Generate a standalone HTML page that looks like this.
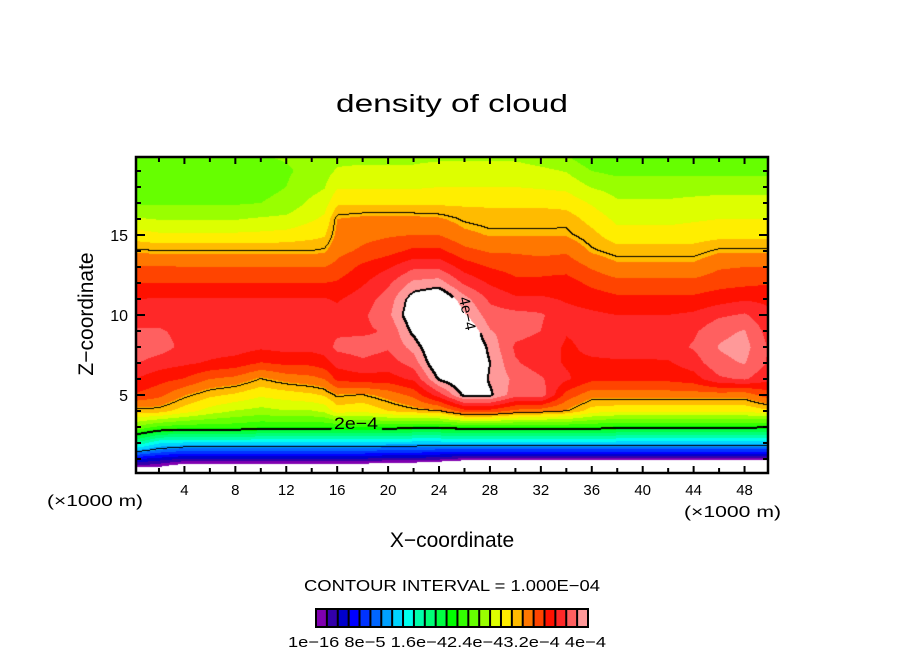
<!DOCTYPE html>
<html><head><meta charset="utf-8">
<style>
html,body{margin:0;padding:0;background:#fff;}
#wrap{position:relative;width:904px;height:654px;overflow:hidden;font-family:"Liberation Sans",sans-serif;}
#field{position:absolute;left:136px;top:157px;}
#ov{position:absolute;left:0;top:0;}
</style></head>
<body>
<div id="wrap">
<canvas id="field" width="632" height="316"></canvas>
<svg id="ov" width="904" height="654">
<text x="336" y="112" font-size="25" textLength="232" lengthAdjust="spacingAndGlyphs">density of cloud</text>
<g id="axes"></g>
<text transform="translate(93,314) rotate(-90)" font-size="21" text-anchor="middle">Z−coordinate</text>
<text x="452" y="547" font-size="21" text-anchor="middle">X−coordinate</text>
<text x="47" y="506" font-size="16" textLength="96" lengthAdjust="spacingAndGlyphs">(×1000 m)</text>
<text x="684" y="517" font-size="16" textLength="97" lengthAdjust="spacingAndGlyphs">(×1000 m)</text>
<text x="334" y="429" font-size="17" textLength="44" lengthAdjust="spacingAndGlyphs">2e−4</text>
<text transform="translate(459,298) rotate(78)" font-size="15">4e−4</text>
<text x="304" y="591" font-size="16" textLength="296" lengthAdjust="spacingAndGlyphs">CONTOUR INTERVAL = 1.000E−04</text>
<g id="cbar"></g>
<text x="288" y="647" font-size="15" textLength="318" lengthAdjust="spacingAndGlyphs">1e−16 8e−5 1.6e−42.4e−43.2e−4 4e−4</text>
</svg>
</div>
<script>
// ---- data (values in units of 1e-5) ----
const xCols = [0,2,4,6,8,10,12,14,15,16,18,20,22,24,26,28,30,32,34,36,38,40,42,44,46,48,50];
const zLevels = [0,0.5,1,1.5,2,3,4,5,6,7,8,9,10,11,12,13,14,15,16,17,18,19,20];
const densityByColumn = [
[-20,1,5,11,16,24,29.5,33.5,35.2,37,38,37,36,35.2,33.6,32,30.2,28,25.8,23.8,23.5,23.5,23.5],
[-20,0,4,9,13,22,29.5,32.5,34.2,36,37.6,37,36,35.3,33.6,32.2,30,27.5,25.5,23.8,23.3,23.2,23.8],
[-20,-2,3,8,12.5,21.5,28,30.5,33.5,35.5,36.3,36.3,36,35.3,33.6,32,30,27.5,25.5,23.8,23.3,23.2,23.8],
[-20,-2,3,8,12.5,21.5,26.5,29.2,32,35,36,36.3,36,35.3,33.6,32,30,27.5,25.5,23.8,23.3,23.2,23.8],
[-20,-2,3,8,12.5,21.5,25.5,28.5,31.5,34.5,36,36.3,36,35.3,33.6,32,30,27.5,25.5,23.8,23.3,23.2,23.8],
[-20,-2,3,8,12.5,21,25,27.5,30,33.5,35.5,36.3,36,35.3,33.6,32,30,27.6,25.8,24,23.5,23.3,24],
[-20,-2,3,8,12.5,21,25.5,28,31,34,35.8,36.3,36,35.3,33.6,32,30,27.8,26,24.5,24,23.8,24.2],
[-20,-2,3,8,12.5,21,25.5,28.5,31.5,34,35.8,36.3,36,35.3,33.6,32,30,28.3,27,26,25,24.5,24.5],
[-20,-2,3,8,12.5,21,26,29,32,34.5,36,36.3,36,35.3,33.6,32,30.2,28.6,27.5,26.5,25.5,25,24.8],
[-20,-2,3,8,12.5,21,28,30.3,34,35.8,37.2,36.5,35.8,35,33.8,32.5,31.5,30.8,30.4,28.5,27,25.8,25],
[-20,-2,3,8,12.5,21,27.5,30,34.5,36.5,37.5,36.5,36.5,36,35,34,32.3,31.5,30.8,28.5,27,26,25],
[-20,-3,2.5,7.5,12,21,28.8,31,34.5,36,37,37,38,37.5,36.5,35,33,31.8,30.8,28.5,27,26,25],
[-20,-3,2.5,7.5,12,20.5,29.6,32.5,35.5,37.5,39,40.5,41.5,41,38.8,36.5,34,32,30.8,28.5,27,26,25],
[-20,-4,2,7,12,20.5,30,36,40.2,42,42.5,43,43,42,39.2,36.5,34,32,30.6,28.5,27.2,26.5,25],
[-20,-5,1,7,12,21,33,40.5,42,43,43,42,40.2,39,36.5,34.5,32.5,30.8,29.8,28.5,27.2,26.5,25],
[-20,-5,1,7,12,21,33,40.3,39.8,40,39.5,38.5,37.5,36.5,35,33.5,31.8,30.3,29.5,28.5,27.2,26.5,25],
[-20,-5,1,7,12,21,31.5,37.5,38,37,36.5,37.5,37.3,35.5,34,33,31.8,30.3,29.5,28.5,27.2,26.5,25],
[-20,-5,1,7,12,21,31,37.8,37,36,36,36.8,37,35.5,34,33,31.5,30.3,29.5,28.5,27,26,24.5],
[-20,-5,1,7,12,21,30.2,33,35.5,35,35,35.3,35.8,35,34.3,33,31.8,30.3,29.6,28.2,26.8,25.5,24],
[-20,-5,1,7,12,21,28,31,34,35,35.5,35.5,35.5,34.5,33.2,31.8,30.2,29.3,28.2,27,25.5,24,22.5],
[-20,-5,1,7,12,20.5,27.5,31.2,34,35,35.8,35.8,35.2,34,32.5,30.8,29.5,27.8,26.8,25.8,25,23.5,22],
[-20,-5,1,7,12,20.5,27.5,31.2,34,35,35.8,35.8,35.2,34,32.5,30.8,29.5,27.8,26.8,25.8,25,23.5,22],
[-20,-5,1,7,12,20.5,27.5,31.2,34,35,36,35.8,35.2,34,32.5,30.8,29.5,27.8,26.8,25.8,25,23.5,22],
[-20,-5,1,7,12,20.5,27.5,31.2,34.5,36,37,36.5,35.5,34,32.5,30.8,29.5,28,27,26,25,23.5,22],
[-20,-5,1,7,12,20.5,27.5,31.2,36.5,38,38.5,38,36.5,34.5,33,31.8,30.2,28.3,27.2,26.2,25,23.5,22],
[-20,-5,1,7,12,20.5,27.5,31,37,38.5,39,38.5,37,35,33.2,32,30.2,28.3,27.2,26.2,25,23.5,22],
[-20,-5,1,7,12,20,28.5,33,35.5,36.5,36.5,36,35.5,34.8,33.5,32,30.2,28.3,27.2,26.2,25,23.5,22]
];
const contourLevels = [10,20,30,40];
const bandColors = ['#8000b0','#3300aa','#0000cc','#0000ff','#0033ff','#0066ff','#00a0ff','#00d4ff','#00ffee','#00ffaa','#00ff77','#00ff44','#00ff00','#33ff00','#66ff00','#99ff00','#ddff00','#ffee00','#ffbb00','#ff7700','#ff4400','#ff1100','#ff2828','#ff6060','#ff9999'];
const bandWidth = 1.6;
const xTicks = [4,8,12,16,20,24,28,32,36,40,44,48];
const zTicks = [5,10,15];

// ---- axis functions ----
const PL=136, PT=157, PW=632, PH=316;
function xPx(x){ return 133.5 + x*12.73; }
function zPx(z){ return 475 - z*16; }
function pxToX(px){ return (px-133.5)/12.73; }
function pxToZ(pz){ return (475-pz)/16; }

function sample(x,z){
  let i=0; while(i<xCols.length-2 && x>xCols[i+1]) i++;
  let tx = (x - xCols[i])/(xCols[i+1]-xCols[i]); tx=Math.max(0,Math.min(1,tx));
  let k=0; while(k<zLevels.length-2 && z>zLevels[k+1]) k++;
  let tz=(z-zLevels[k])/(zLevels[k+1]-zLevels[k]); tz=Math.max(0,Math.min(1,tz));
  const a=densityByColumn[i][k], b=densityByColumn[i+1][k], c=densityByColumn[i][k+1], d=densityByColumn[i+1][k+1];
  return (a*(1-tx)+b*tx)*(1-tz)+(c*(1-tx)+d*tx)*tz;
}
function hex(c){ return [parseInt(c.substr(1,2),16),parseInt(c.substr(3,2),16),parseInt(c.substr(5,2),16)]; }
const rgb = bandColors.map(hex);
function lev(v){ let n=0; for(const L of contourLevels){ if(v>=L) n++; } return n; }

const cv=document.getElementById('field'); const ctx=cv.getContext('2d');
const img=ctx.createImageData(PW,PH);
const vals=new Float32Array(PW*PH);
for(let j=0;j<PH;j++){ for(let i=0;i<PW;i++){ vals[j*PW+i]=sample(pxToX(PL+i+0.5), pxToZ(PT+j+0.5)); } }
for(let j=0;j<PH;j++){ for(let i=0;i<PW;i++){
  const v=vals[j*PW+i]; let col=[255,255,255];
  if(v>=0 && v<40){ let idx=Math.floor(v/bandWidth); if(idx>24)idx=24; col=rgb[idx]; }
  const p=(j*PW+i)*4; img.data[p]=col[0];img.data[p+1]=col[1];img.data[p+2]=col[2];img.data[p+3]=255;
}}
function blk(i,j){ if(i<0||j<0||i>=PW||j>=PH)return; const p=(j*PW+i)*4; img.data[p]=0;img.data[p+1]=0;img.data[p+2]=0; }
function inGap(i,j,L){
  const X=PL+i, Y=PT+j;
  if(L===2 && X>330 && X<382 && Y>412 && Y<436) return true;
  if(L===4 && X>452 && X<480 && Y>292 && Y<346) return true;
  return false;
}
for(let j=0;j<PH-1;j++){ for(let i=0;i<PW-1;i++){
  const v=vals[j*PW+i]; if(v<0) continue;
  const a=lev(v), r=lev(vals[j*PW+i+1]), d=lev(vals[(j+1)*PW+i]);
  if(a!==r||a!==d){
    const L=Math.max(a,r,d);
    if(inGap(i,j,L)) continue;
    blk(i,j);
    if(L===2||L===4){ blk(i,j+1); blk(i+1,j); }
  }
}}
ctx.putImageData(img,0,0);

// ---- axes ----
const NS='http://www.w3.org/2000/svg';
const axes=document.getElementById('axes');
function mk(tag,attrs,parent){ const e=document.createElementNS(NS,tag); for(const k in attrs)e.setAttribute(k,attrs[k]); parent.appendChild(e); return e; }
const frame=mk('rect',{x:PL,y:PT,width:PW,height:PH,fill:'none',stroke:'#000','stroke-width':2.5},axes);


for(let x=2;x<=48;x+=2){
  const px=xPx(x), len=(x%4===0)?7:5;
  const t1=mk('line',{x1:px,x2:px,y1:PT+PH,y2:PT+PH-len,stroke:'#000','stroke-width':2},axes);
  
  
  const t2=mk('line',{x1:px,x2:px,y1:PT,y2:PT+len,stroke:'#000','stroke-width':2},axes);
  
  
}
for(let z=1;z<=19;z++){
  const pz=zPx(z), len=(z%5===0)?9:5;
  const t1=mk('line',{x1:PL,x2:PL+len,y1:pz,y2:pz,stroke:'#000','stroke-width':2},axes);
  
  
  const t2=mk('line',{x1:PL+PW,x2:PL+PW-len,y1:pz,y2:pz,stroke:'#000','stroke-width':2},axes);
  
  
}
xTicks.forEach(function(x){
  const t=mk('text',{x:xPx(x),y:495,'font-size':15,'text-anchor':'middle'},axes); t.textContent=String(x);
  
  
});
zTicks.forEach(function(z){
  const t=mk('text',{x:128,y:zPx(z)+6,'font-size':16,'text-anchor':'end'},axes); t.textContent=String(z);
  
  
});
// ---- colorbar ----
const cb=document.getElementById('cbar');
const cbx=316, cbw=272, cby=608, cbh=20, bw=cbw/bandColors.length;
const cbBg=mk('rect',{x:cbx-1,y:cby,width:cbw+2,height:cbh,fill:'#000'},cb);


bandColors.forEach(function(c,k){
  const r=mk('rect',{x:cbx+k*bw+1,y:cby+2,width:bw-2,height:cbh-4,fill:c},cb);
  
  
});
</script>
</body></html>
